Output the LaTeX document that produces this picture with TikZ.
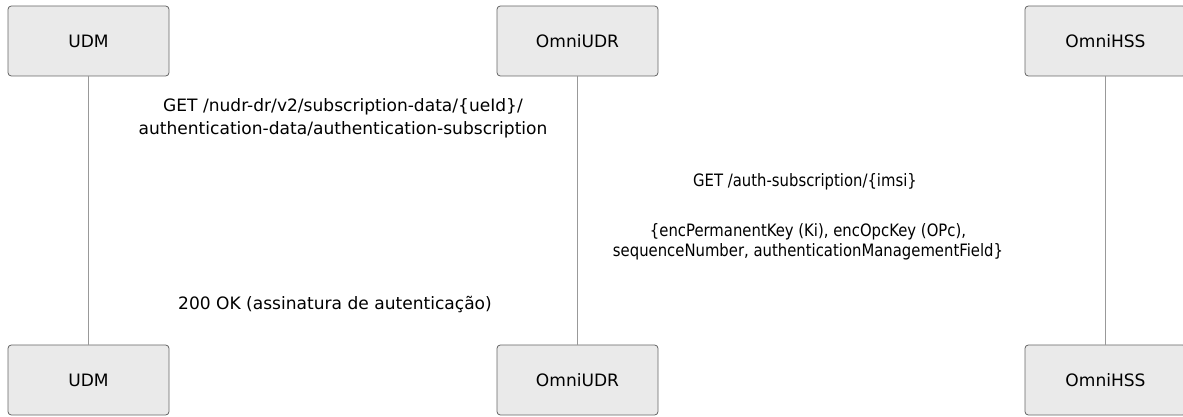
\documentclass[tikz,border=0pt]{standalone}
\usepackage{fontspec}
\setmainfont{DejaVu Sans}
\definecolor{boxfill}{HTML}{EAEAEA}
\definecolor{boxline}{HTML}{666666}
\definecolor{lifeline}{HTML}{999999}
\begin{document}
\begin{tikzpicture}[x=0.75pt,y=-0.75pt,
  actor/.style={draw=boxline,fill=boxfill,rounded corners=2.5pt,minimum width=120.75pt,minimum height=52.5pt,font=\fontsize{12.8pt}{15pt}\selectfont,inner sep=0pt,line width=0.6pt},
  msg/.style={font=\fontsize{12.8pt}{17.25pt}\selectfont,align=center,inner sep=0pt},
  msgr/.style={font=\fontsize{12.8pt}{15pt}\selectfont,inner sep=0pt},
  life/.style={draw=lifeline,line width=0.75pt}]
\useasboundingbox (0,0) rectangle (1183,417);
\node[actor] (udmT) at (88.5,41) {UDM};
\node[actor] (udrT) at (577.5,41) {OmniUDR};
\node[actor] (hssT) at (1105.5,41) {OmniHSS};
\node[actor] (udmB) at (88.5,380) {UDM};
\node[actor] (udrB) at (577.5,380) {OmniUDR};
\node[actor] (hssB) at (1105.5,380) {OmniHSS};
\draw[life] (udmT.south) -- (udmB.north);
\draw[life] (udrT.south) -- (udrB.north);
\draw[life] (hssT.south) -- (hssB.north);
\node[msg] (m1) at (343,118.5) {GET /nudr-dr/v2/subscription-data/\{ueId\}/\\authentication-data/authentication-subscription};
\node[msgr] (m2) at (805,182) {\scalebox{0.87}[1]{GET /auth-subscription/\{imsi\}}};
\node[msgr] (m3) at (808,243) {\scalebox{0.87}[1]{\begin{tabular}{@{}c@{}}\{encPermanentKey (Ki), encOpcKey (OPc),\\sequenceNumber, authenticationManagementField\}\end{tabular}}};
\node[msg] (m4) at (335,305) {200 OK (assinatura de autenticação)};
\end{tikzpicture}
\end{document}
